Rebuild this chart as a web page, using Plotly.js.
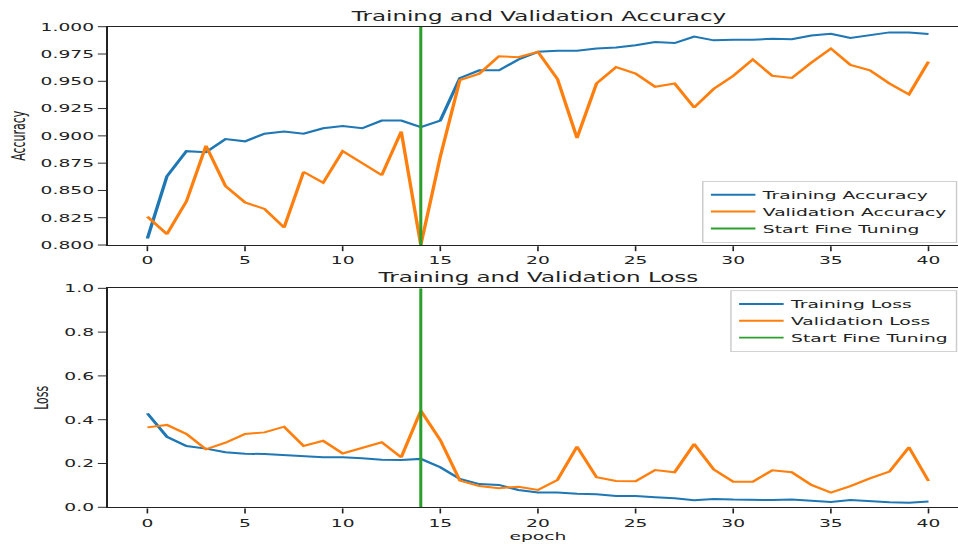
<!DOCTYPE html>
<html>
<head>
<meta charset="utf-8">
<script src="https://cdn.plot.ly/plotly-3.0.1.min.js"></script>
<style>
html, body { margin: 0; padding: 0; overflow: hidden; background: #fff; width: 958px; height: 544px; }
#plot { width: 654px; height: 625px; transform: scale(1.484, 0.8704); transform-origin: 0 0; }
</style>
</head>
<body>
<div id="plot"></div>
<script>
// ---- data ----
const epochs = [0,1,2,3,4,5,6,7,8,9,10,11,12,13,14,15,16,17,18,19,20,21,22,23,24,25,26,27,28,29,30,31,32,33,34,35,36,37,38,39,40];

const trainAcc = [0.806,0.863,0.886,0.885,0.897,0.895,0.902,0.904,0.902,0.907,0.909,0.907,0.914,0.914,0.908,0.914,
  0.953,0.960,0.960,0.970,0.977,0.978,0.978,0.980,0.981,0.983,0.986,0.985,0.991,0.9875,0.988,0.988,0.989,0.9885,0.992,0.9936,0.9897,0.992,0.9948,0.9946,0.9933];

const valAcc = [0.826,0.810,0.840,0.891,0.854,0.839,0.833,0.816,0.867,0.857,0.886,0.875,0.864,0.904,0.800,0.881,
  0.951,0.957,0.973,0.972,0.977,0.952,0.898,0.948,0.963,0.957,0.945,0.948,0.926,0.943,0.955,0.970,0.955,0.953,0.967,0.980,0.965,0.960,0.948,0.938,0.968];

const trainLoss = [0.429,0.322,0.280,0.268,0.251,0.245,0.243,0.239,0.233,0.228,0.228,0.224,0.217,0.216,0.221,0.183,
  0.129,0.106,0.102,0.079,0.068,0.068,0.062,0.059,0.052,0.052,0.046,0.041,0.032,0.038,0.035,0.033,0.033,0.036,0.030,0.024,0.033,0.027,0.023,0.021,0.026];

const valLoss = [0.365,0.376,0.335,0.265,0.295,0.335,0.342,0.368,0.280,0.304,0.246,0.272,0.297,0.228,0.441,0.307,
  0.122,0.097,0.087,0.094,0.079,0.125,0.277,0.137,0.120,0.119,0.170,0.160,0.289,0.173,0.117,0.117,0.169,0.160,0.102,0.067,0.097,0.132,0.163,0.274,0.120];

const fineTuneEpoch = 14;
const accYLim = [0.8, 1.0];
const lossYLim = [0.0, 1.0];

const accLabels = ['Training Accuracy', 'Validation Accuracy', 'Start Fine Tuning'];
const lossLabels = ['Training Loss', 'Validation Loss', 'Start Fine Tuning'];
const titles = ['Training and Validation Accuracy', 'Training and Validation Loss'];

// ---- styling ----
const BLUE = '#1f77b4', ORANGE = '#ff7f0e', GREEN = '#2ca02c';
const FONT = 'DejaVu Sans, sans-serif';
const TXT = '#222';
const LW = 2.3;
const GW = 2.05;
const FS = 12.6;

const traces = [
  {x: epochs, y: trainAcc, type: 'scatter', mode: 'lines', name: accLabels[0], line: {color: BLUE, width: LW}, xaxis: 'x', yaxis: 'y', legend: 'legend'},
  {x: epochs, y: valAcc, type: 'scatter', mode: 'lines', name: accLabels[1], line: {color: ORANGE, width: LW}, xaxis: 'x', yaxis: 'y', legend: 'legend'},
  {x: [fineTuneEpoch, fineTuneEpoch], y: accYLim, type: 'scatter', mode: 'lines', name: accLabels[2], line: {color: GREEN, width: GW}, xaxis: 'x', yaxis: 'y', legend: 'legend'},
  {x: epochs, y: trainLoss, type: 'scatter', mode: 'lines', name: lossLabels[0], line: {color: BLUE, width: LW}, xaxis: 'x2', yaxis: 'y2', legend: 'legend2'},
  {x: epochs, y: valLoss, type: 'scatter', mode: 'lines', name: lossLabels[1], line: {color: ORANGE, width: LW}, xaxis: 'x2', yaxis: 'y2', legend: 'legend2'},
  {x: [fineTuneEpoch, fineTuneEpoch], y: lossYLim, type: 'scatter', mode: 'lines', name: lossLabels[2], line: {color: GREEN, width: GW}, xaxis: 'x2', yaxis: 'y2', legend: 'legend2'}
];

const axCommon = {
  showgrid: false, zeroline: false, showline: true, linecolor: TXT, linewidth: 1.37, mirror: true,
  ticks: 'outside', ticklen: 5.7, tickwidth: 1.1, tickcolor: TXT,
  tickfont: {family: FONT, size: FS, color: TXT}, automargin: false
};

const legCommon = {
  bgcolor: 'rgba(255,255,255,0.8)', bordercolor: '#cccccc', borderwidth: 1,
  font: {family: FONT, size: FS, color: TXT}, xanchor: 'right', x: 0.988,
  tracegroupgap: 0, itemwidth: 30
};

const layout = {
  width: 654, height: 625,
  margin: {l: 72.8, r: 1.7, t: 0, b: 0},
  paper_bgcolor: '#fff', plot_bgcolor: '#fff',
  showlegend: true,
  font: {family: FONT, color: TXT},
  xaxis: Object.assign({}, axCommon, {domain: [0, 1], anchor: 'y', range: [-2, 42], tick0: 0, dtick: 5}),
  yaxis: Object.assign({}, axCommon, {domain: [0.5496, 0.9509], anchor: 'x', range: accYLim, dtick: 0.025, tick0: 0.8, tickformat: '.3f',
    title: {text: 'Accuracy', font: {family: FONT, size: FS, color: TXT}, standoff: 7}}),
  xaxis2: Object.assign({}, axCommon, {domain: [0, 1], anchor: 'y2', range: [-2, 42], tick0: 0, dtick: 5,
    title: {text: 'epoch', font: {family: FONT, size: FS, color: TXT}, standoff: 2}}),
  yaxis2: Object.assign({}, axCommon, {domain: [0.0675, 0.470], anchor: 'x2', range: lossYLim, dtick: 0.2, tick0: 0, tickformat: '.1f',
    title: {text: 'Loss', font: {family: FONT, size: FS, color: TXT}, standoff: 7}}),
  legend: Object.assign({}, legCommon, {y: 0.5535, yanchor: 'bottom'}),
  legend2: Object.assign({}, legCommon, {y: 0.4665, yanchor: 'top'}),
  annotations: [
    {text: titles[0], xref: 'paper', yref: 'paper', x: 0.5, y: 0.9509, xanchor: 'center', yanchor: 'bottom', yshift: 1, showarrow: false,
     font: {family: FONT, size: 15.5, color: TXT}},
    {text: titles[1], xref: 'paper', yref: 'paper', x: 0.5, y: 0.470, xanchor: 'center', yanchor: 'bottom', yshift: 1, showarrow: false,
     font: {family: FONT, size: 15.5, color: TXT}}
  ]
};

Plotly.newPlot('plot', traces, layout, {displayModeBar: false, staticPlot: true});
</script>
</body>
</html>
